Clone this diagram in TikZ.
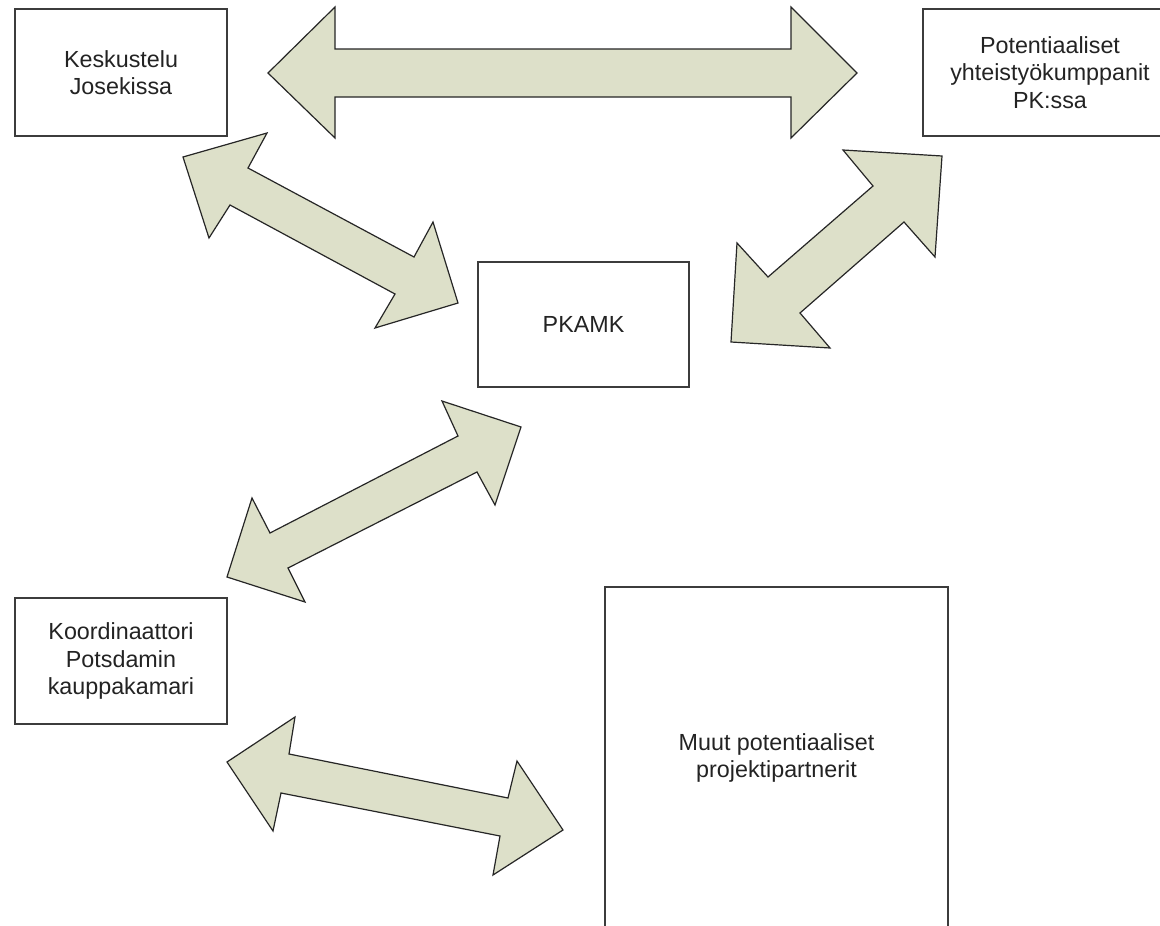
\documentclass[tikz,border=0pt]{standalone}
\usepackage{fontspec}
\setmainfont{Liberation Sans}
\definecolor{arrowfill}{RGB}{221,224,201}
\definecolor{boxline}{RGB}{60,60,60}
\definecolor{txt}{RGB}{35,35,35}
\tikzset{
  box/.style={draw=boxline, line width=1.6pt, fill=white, rectangle, inner sep=0pt, outer sep=0pt,
    align=center, text=txt, font=\fontsize{23.3pt}{27.5pt}\selectfont},
  blockarrow/.style={draw=black!85, line width=1.2pt, fill=arrowfill, line join=miter}
}
\begin{document}
\begin{tikzpicture}[x=1pt,y=-1pt]
\clip (0,0) rectangle (1160,926);
\fill[white] (0,0) rectangle (1160,926);

% boxes
\node[box, minimum width=212pt, minimum height=127pt] (kesk) at (121,72.5) {Keskustelu\\Josekissa};
\node[box, minimum width=254pt, minimum height=127pt] (pot) at (1050,72.5) {Potentiaaliset\\yhteistyökumppanit\\PK:ssa};
\node[box, minimum width=211pt, minimum height=125pt] (pkamk) at (583.5,324.5) {PKAMK};
\node[box, minimum width=212pt, minimum height=126pt] (koord) at (121,661) {Koordinaattori\\Potsdamin\\kauppakamari};
\node[box, minimum width=343pt, minimum height=342pt] (muut) at (776.5,758) {Muut potentiaaliset\\projektipartnerit};

% block arrows
\draw[blockarrow] (268,73) -- (335,7) -- (335,49) -- (791,49) -- (791,7) -- (857,73)
  -- (791,138) -- (791,97) -- (335,97) -- (335,138) -- cycle;
\draw[blockarrow] (183,157) -- (267,133) -- (248,168) -- (414,257) -- (433,222) -- (458,303)
  -- (375,328) -- (395,294) -- (230,205) -- (209,238) -- cycle;
\draw[blockarrow] (942,156) -- (935,257) -- (904,222) -- (800,313) -- (830,348) -- (731,342)
  -- (737,243) -- (768,277) -- (873,186) -- (843,150) -- cycle;
\draw[blockarrow] (521,427) -- (495,505) -- (477,472) -- (288,568) -- (305,602) -- (227,577)
  -- (252,498) -- (270,533) -- (458,436) -- (442,401) -- cycle;
\draw[blockarrow] (227,762) -- (295,717) -- (289,754) -- (508,798) -- (517,761) -- (563,830)
  -- (493,875) -- (500,836) -- (281,793) -- (273,831) -- cycle;
\end{tikzpicture}
\end{document}
